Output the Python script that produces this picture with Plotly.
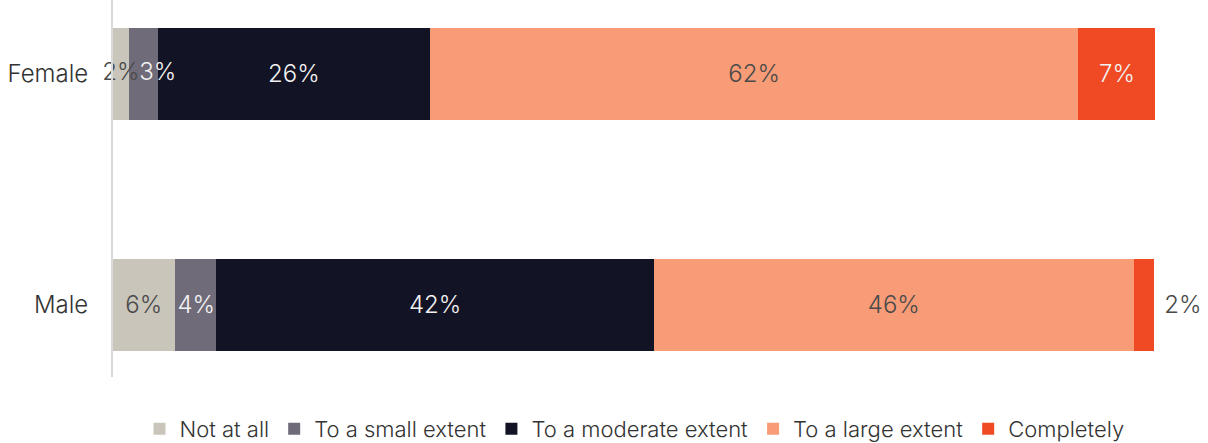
import plotly.graph_objects as go

groups = ["Female", "Male"]
series_names = ["Not at all", "To a small extent", "To a moderate extent", "To a large extent", "Completely"]
not_at_all = [1.5, 5.9]
small_extent = [2.8, 4.0]
moderate_extent = [26.1, 42.0]
large_extent = [62.2, 46.0]
completely = [7.4, 2.0]

values = [not_at_all, small_extent, moderate_extent, large_extent, completely]
colors = ["#c9c5ba", "#706b78", "#121324", "#f79c76", "#ef4a24"]
text_colors = ["#4a4a4a", "#f2f2f2", "#f2f2f2", "#4a4a4a", "#f2f2f2"]
anchors = ["middle", "start", "middle", "middle", "middle"]

FONT = "Inter, Roboto, sans-serif"
NB = "\u00a0"
SMALL = 3  # segments narrower than this get their label drawn on top

fig = go.Figure()
overlay_x, overlay_y, overlay_t, overlay_c = [], [], [], []
starts = [0.0] * len(groups)
for i, (name, vals, col, tcol, anc) in enumerate(zip(series_names, values, colors, text_colors, anchors)):
    positions = ["inside"] * len(vals)
    if name == "Completely":
        positions = ["inside" if v >= 4 else "outside" for v in vals]
    labels = []
    for j, (v, pos) in enumerate(zip(vals, positions)):
        s = f"{v:.0f}%"
        if pos == "outside":
            labels.append(NB + s)
        elif v < SMALL and i < len(values) - 1:
            labels.append("")
            overlay_x.append(starts[j] + (v / 2 if i == 0 else v))
            overlay_y.append(groups[j])
            overlay_t.append(s)
            overlay_c.append(tcol)
        else:
            labels.append(s)
        starts[j] += v
    fig.add_trace(go.Bar(
        y=groups, x=vals, name=name, orientation="h",
        marker=dict(color=col, line=dict(width=0)),
        text=labels,
        texttemplate="%{text}",
        textposition=positions,
        textangle=0,
        insidetextanchor=anc,
        constraintext="none",
        insidetextfont=dict(family=FONT, size=24, color=tcol, weight=300),
        outsidetextfont=dict(family=FONT, size=24, color="#4a4a4a", weight=300),
        cliponaxis=False,
        hoverinfo="skip",
    ))

fig.add_trace(go.Scatter(
    x=overlay_x, y=overlay_y, text=overlay_t, mode="text",
    textposition="middle center",
    textfont=dict(family=FONT, size=24, color=overlay_c, weight=300),
    showlegend=False, hoverinfo="skip", cliponaxis=False,
))

fig.update_layout(
    barmode="stack",
    bargap=0.6,
    width=1208, height=443,
    margin=dict(l=113, r=52, t=0, b=66, autoexpand=False),
    paper_bgcolor="white", plot_bgcolor="white",
    font=dict(family=FONT, color="#333333", weight=300),
    showlegend=True,
    legend=dict(orientation="h", x=0.5, xanchor="center", y=-0.138, yanchor="middle",
                font=dict(family=FONT, size=22, color="#333333", weight=300),
                traceorder="normal"),
    xaxis=dict(range=[0, 100.05], visible=False, fixedrange=True),
    yaxis=dict(categoryorder="array", categoryarray=["Male", "Female"],
               range=[-0.312, 1.32], showline=True, linecolor="#d9d9d9", linewidth=2,
               showgrid=False, zeroline=False, ticks="", ticklabelstandoff=18,
               automargin=False,
               tickfont=dict(family=FONT, size=24, color="#333333", weight=300)),
)

fig.write_html("out.html", config={"displayModeBar": False},
               post_script="document.body.style.margin='0px';")
